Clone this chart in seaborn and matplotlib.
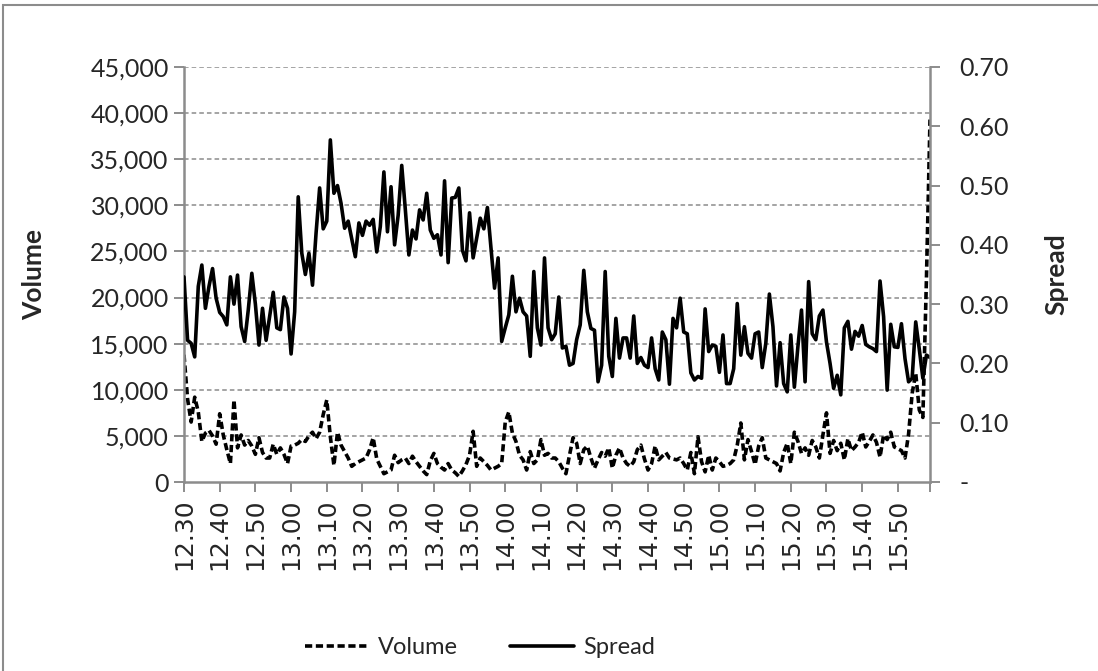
import matplotlib
matplotlib.use("Agg")
import matplotlib.pyplot as plt
import seaborn as sns
import pandas as pd
import numpy as np
from matplotlib.patches import Rectangle
from matplotlib.lines import Line2D

# ------------------------------------------------------------
# Data (one point per minute 12.30-15.59)
# ------------------------------------------------------------
tick_labels = ["12.30", "12.40", "12.50", "13.00", "13.10", "13.20", "13.30",
               "13.40", "13.50", "14.00", "14.10", "14.20", "14.30", "14.40",
               "14.50", "15.00", "15.10", "15.20", "15.30", "15.40", "15.50"]

# trading volume, thousands (left axis)
volume_k = [
    13.8, 9.0, 6.5, 9.2, 7.6, 4.4, 5.3, 5.6, 5.0, 4.1,
    7.4, 5.1, 3.5, 2.0, 8.9, 3.7, 5.1, 4.0, 4.5, 3.9,
    3.0, 4.8, 3.2, 2.6, 2.6, 4.1, 3.0, 3.7, 3.0, 2.0,
    3.9, 4.0, 4.2, 4.6, 4.4, 5.0, 5.4, 4.7, 5.4, 7.3,
    8.9, 4.9, 1.8, 5.4, 4.0, 3.3, 2.6, 1.7, 2.0, 2.2,
    2.4, 2.6, 3.5, 4.8, 2.5, 1.7, 0.9, 1.1, 1.3, 2.9,
    2.1, 2.4, 2.6, 2.0, 2.8, 2.2, 1.7, 1.2, 0.8, 2.3,
    3.1, 2.0, 1.6, 1.3, 2.0, 1.3, 1.0, 0.6, 1.2, 1.9,
    2.9, 5.5, 1.7, 2.6, 2.2, 1.8, 1.3, 1.5, 1.7, 2.0,
    6.5, 7.6, 5.3, 4.4, 2.9, 2.4, 1.3, 3.3, 2.0, 2.4,
    4.6, 2.9, 3.1, 2.6, 2.6, 2.2, 1.5, 0.9, 2.9, 4.8,
    4.2, 2.0, 3.5, 3.9, 2.6, 1.5, 2.4, 3.2, 2.8, 3.7,
    1.5, 2.9, 3.7, 2.6, 2.0, 1.7, 2.2, 3.5, 4.0, 2.5,
    1.3, 2.0, 3.9, 2.4, 2.8, 3.2, 2.6, 2.5, 2.4, 2.6,
    2.0, 1.3, 3.2, 0.9, 4.9, 2.2, 1.1, 2.9, 1.3, 2.6,
    2.2, 1.7, 1.8, 2.0, 2.4, 4.0, 6.4, 2.4, 4.6, 3.3,
    1.9, 3.9, 4.8, 2.6, 2.4, 2.2, 2.0, 1.2, 3.2, 4.2,
    2.0, 5.4, 4.4, 3.1, 3.7, 2.9, 4.5, 3.8, 2.6, 5.1,
    7.5, 3.1, 4.5, 3.4, 4.2, 2.4, 4.7, 3.4, 3.8, 4.3,
    5.4, 3.8, 4.4, 5.1, 4.3, 2.7, 5.1, 4.6, 5.4, 3.8,
    3.6, 3.4, 2.6, 5.2, 9.6, 11.8, 7.8, 7.0, 22.0, 39.3,
]

# bid-ask spread (right axis)
spread = [
    0.346, 0.239, 0.234, 0.211, 0.330, 0.366, 0.293, 0.330, 0.360, 0.310,
    0.286, 0.279, 0.265, 0.346, 0.300, 0.349, 0.262, 0.237, 0.290, 0.352,
    0.300, 0.231, 0.293, 0.239, 0.280, 0.320, 0.260, 0.257, 0.312, 0.293,
    0.216, 0.287, 0.481, 0.386, 0.350, 0.386, 0.332, 0.420, 0.496, 0.427,
    0.440, 0.577, 0.487, 0.500, 0.470, 0.428, 0.440, 0.410, 0.380, 0.437,
    0.416, 0.440, 0.433, 0.443, 0.388, 0.431, 0.523, 0.422, 0.498, 0.400,
    0.450, 0.534, 0.460, 0.383, 0.425, 0.410, 0.459, 0.442, 0.487, 0.425,
    0.411, 0.417, 0.383, 0.508, 0.370, 0.479, 0.480, 0.496, 0.391, 0.373,
    0.454, 0.378, 0.411, 0.445, 0.427, 0.463, 0.394, 0.327, 0.378, 0.237,
    0.260, 0.282, 0.347, 0.287, 0.310, 0.287, 0.280, 0.212, 0.355, 0.260,
    0.231, 0.378, 0.260, 0.240, 0.250, 0.312, 0.226, 0.229, 0.197, 0.200,
    0.240, 0.265, 0.357, 0.287, 0.259, 0.256, 0.169, 0.197, 0.355, 0.212,
    0.178, 0.276, 0.209, 0.243, 0.243, 0.209, 0.280, 0.200, 0.210, 0.197,
    0.193, 0.243, 0.191, 0.172, 0.253, 0.240, 0.165, 0.276, 0.260, 0.310,
    0.253, 0.250, 0.184, 0.172, 0.178, 0.175, 0.292, 0.220, 0.231, 0.229,
    0.185, 0.248, 0.166, 0.166, 0.191, 0.301, 0.214, 0.262, 0.217, 0.209,
    0.250, 0.253, 0.193, 0.234, 0.317, 0.262, 0.162, 0.235, 0.166, 0.152,
    0.248, 0.160, 0.229, 0.290, 0.169, 0.338, 0.250, 0.240, 0.280, 0.290,
    0.236, 0.200, 0.158, 0.180, 0.147, 0.260, 0.271, 0.224, 0.254, 0.246,
    0.264, 0.232, 0.228, 0.225, 0.220, 0.339, 0.279, 0.155, 0.266, 0.228,
    0.227, 0.267, 0.208, 0.169, 0.175, 0.270, 0.224, 0.175, 0.214, 0.210,
]

df = pd.DataFrame({
    "minute": np.arange(len(volume_k)),
    "Volume": np.array(volume_k) * 1000,
    "Spread": spread,
})

# ------------------------------------------------------------
# Style
# ------------------------------------------------------------
sns.set_theme(style="white")
plt.rcParams["font.family"] = ["Lato", "DejaVu Sans"]
GRAY = "#8c8c8c"
LW = 2.6
DASH = (0, (2.0, 1.0))

fig = plt.figure(figsize=(10.98, 6.71), dpi=100)
ax = fig.add_axes([184 / 1098, 1 - 482 / 671, (930 - 184) / 1098, (482 - 67) / 671])
ax2 = ax.twinx()

sns.lineplot(data=df, x="minute", y="Volume", ax=ax, color="black",
             linewidth=LW, linestyle=DASH)
sns.lineplot(data=df, x="minute", y="Spread", ax=ax2, color="black",
             linewidth=LW)

# axes ranges / ticks
n = len(df)
ax.set_xlim(0, n - 1)
ax.set_ylim(0, 45000)
ax2.set_ylim(0, 0.70)
xt = list(range(0, 10 * len(tick_labels), 10)) + [n - 1]
ax.set_xticks(xt)
ax.set_xticklabels(tick_labels + [""], rotation=90, family="DejaVu Sans", fontsize=18)
ax.set_yticks(np.arange(0, 45001, 5000))
ax.set_yticklabels([f"{int(v):,}" for v in np.arange(0, 45001, 5000)], fontsize=18)
rt = np.round(np.arange(0, 0.701, 0.10), 2)
ax2.set_yticks(rt)
ax2.set_yticklabels(["-" if v == 0 else f"{v:.2f}" for v in rt], fontsize=18)

ax.set_xlabel("")
ax.set_ylabel("Volume", fontsize=19, fontweight="bold", labelpad=32)
ax2.set_ylabel("Spread", fontsize=19, fontweight="bold", labelpad=26)

# grid: dashed gray at left-axis ticks
for v in np.arange(5000, 45001, 5000):
    ax.axhline(v, color=GRAY, lw=1.1, ls=(0, (3, 2)), zorder=0)

for a in (ax, ax2):
    for s in a.spines.values():
        s.set_visible(False)
ax.spines["left"].set_visible(True)
ax.spines["bottom"].set_visible(True)
ax2.spines["right"].set_visible(True)
for s in (ax.spines["left"], ax.spines["bottom"], ax2.spines["right"]):
    s.set_color(GRAY)
    s.set_linewidth(1.8)
ax.tick_params(axis="both", which="both", direction="out", length=7, width=1.4,
               color=GRAY, left=True, bottom=True, pad=4)
ax.tick_params(axis="x", pad=5)
ax2.tick_params(axis="y", direction="out", length=7, width=1.4, color=GRAY,
                right=True, pad=14)
ax.patch.set_visible(False)

# legend
handles = [Line2D([], [], color="black", lw=LW, ls=DASH),
           Line2D([], [], color="black", lw=LW)]
fig.legend(handles, ["Volume", "Spread"], loc="center", ncol=2,
           bbox_to_anchor=(0.437, 1 - 648 / 671), frameon=False, fontsize=17,
           handlelength=2.7, columnspacing=2.2, handletextpad=0.4)

# outer chart frame
fig.add_artist(Rectangle((3 / 1098, -0.1), 1.2, 1 - 5 / 671 + 0.1,
                         transform=fig.transFigure, fill=False,
                         edgecolor=GRAY, lw=1.5))

fig.savefig("out.png", dpi=100)
